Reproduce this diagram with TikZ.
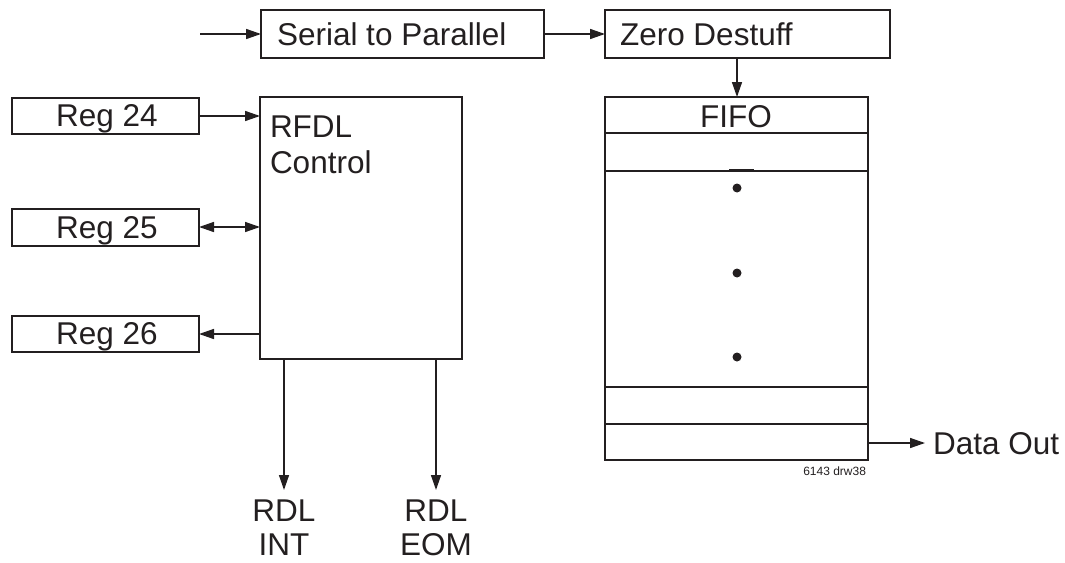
\documentclass[tikz,border=0pt]{standalone}
\usepackage{fontspec}
\setmainfont{Liberation Sans}
\usetikzlibrary{arrows.meta}
\definecolor{ink}{HTML}{231F20}
\begin{document}
\begin{tikzpicture}[x=1pt,y=-1pt,
  every node/.style={inner sep=0pt,outer sep=0pt,text=ink},
  box/.style={draw=ink,line width=1.5pt,rectangle,anchor=north west},
  lbl/.style={font=\fontsize{31.5}{37}\selectfont},
  small/.style={font=\fontsize{12}{14}\selectfont},
  conn/.style={draw=ink,line width=1.5pt,-{Triangle[length=15pt,width=10pt]}},
  conn2/.style={draw=ink,line width=1.5pt,{Triangle[length=15pt,width=10pt]}-{Triangle[length=15pt,width=10pt]}},
  sep/.style={draw=ink,line width=1.5pt}]
\useasboundingbox (0,0) rectangle (1065,562);
% top row
\coordinate (in) at (200,34);
\node[box,minimum width=283pt,minimum height=48pt] (sp) at (261,10) {};
\node[lbl,anchor=base west] (spt) at (277,45) {Serial to Parallel};
\node[box,minimum width=285pt,minimum height=48pt] (zd) at (605,10) {};
\node[lbl,anchor=base west] (zdt) at (620,45) {Zero Destuff};
% FIFO
\node[box,minimum width=263pt,minimum height=363pt] (fifo) at (605,97) {};
\node[lbl,anchor=base] (fifot) at (736,127) {FIFO};
\draw[sep] (605,133) -- (868,133);
\draw[sep] (605,171) -- (868,171);
\draw[sep] (729,169.5) -- (754,169.5);
\draw[sep] (605,387) -- (868,387);
\draw[sep] (605,424) -- (868,424);
\fill[ink] (737,188) circle (4.5pt);
\fill[ink] (737,273) circle (4.5pt);
\fill[ink] (737,357) circle (4.5pt);
\node[lbl,anchor=base west] (dout) at (933,454) {Data Out};
\node[small,anchor=base east] (drw) at (866,475) {6143 drw38};
% registers
\node[box,minimum width=187pt,minimum height=36pt] (r24) at (12,98) {};
\node[lbl,anchor=base] at (107,126) {Reg 24};
\node[box,minimum width=187pt,minimum height=37pt] (r25) at (12,209) {};
\node[lbl,anchor=base] at (107,238) {Reg 25};
\node[box,minimum width=187pt,minimum height=36pt] (r26) at (12,316) {};
\node[lbl,anchor=base] at (107,344) {Reg 26};
% RFDL control
\node[box,minimum width=202pt,minimum height=262pt] (rfdl) at (260,97) {};
\node[lbl,anchor=base west] at (270,137) {RFDL};
\node[lbl,anchor=base west] at (270,173) {Control};
% outputs
\node[lbl,anchor=base] (int) at (284,521) {RDL};
\node[lbl,anchor=base] at (284,555) {INT};
\node[lbl,anchor=base] (eom) at (436,521) {RDL};
\node[lbl,anchor=base] at (436,555) {EOM};
% connectors
\draw[conn] (in) -- (sp.west |- in);
\draw[conn] (sp.east |- in) -- (zd.west |- in);
\draw[conn] (737,58) -- (737,97);
\draw[conn] (fifo.east |- 0,443) -- (925,443);
\draw[conn] (r24.east |- 0,116) -- (rfdl.west |- 0,116);
\draw[conn2] (r25.east |- 0,227) -- (rfdl.west |- 0,227);
\draw[conn] (rfdl.west |- 0,334) -- (r26.east |- 0,334);
\draw[conn] (284,359) -- (284,490);
\draw[conn] (436,359) -- (436,490);
\end{tikzpicture}
\end{document}
